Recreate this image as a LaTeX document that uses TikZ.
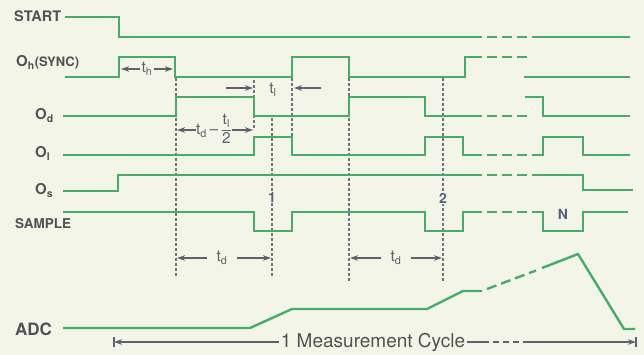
\documentclass[tikz,border=0pt]{standalone}
\usepackage{fontspec}
\setmainfont{TeX Gyre Heros}
\usetikzlibrary{arrows.meta}
\definecolor{bgcream}{RGB}{243,245,232}
\definecolor{wavegreen}{RGB}{74,170,106}
\definecolor{markgray}{RGB}{112,116,124}
\definecolor{labelgray}{RGB}{80,82,86}
\definecolor{dimgray}{RGB}{92,98,108}
\definecolor{countblue}{RGB}{84,98,124}

\begin{document}
\begin{tikzpicture}[
    x=1pt, y=-1pt,
    wave/.style={draw=wavegreen, line width=2.4pt},
    wavegap/.style={wave, dash pattern=on 10pt off 5pt},
    marker/.style={draw=markgray, line width=1.2pt, dash pattern=on 3pt off 2pt},
    dimarrow/.style={-{Stealth[length=8pt, width=5.5pt]}, line width=1.2pt, draw=dimgray},
    dimline/.style={line width=1.2pt, draw=dimgray},
    siglabel/.style={font=\fontsize{15}{15}\selectfont\bfseries, text=labelgray, anchor=base west, inner sep=0pt},
    caplabel/.style={font=\fontsize{13.5}{13.5}\selectfont\bfseries, text=labelgray, anchor=base west, inner sep=0pt},
    dimlabel/.style={font=\fontsize{15.5}{15.5}\selectfont, text=dimgray, inner sep=1pt},
    count/.style={font=\fontsize{14}{14}\selectfont\bfseries, text=countblue, fill=bgcream, inner sep=0.5pt}
]

% Background
\fill[bgcream] (0,0) rectangle (644,355);
\useasboundingbox (0,0) rectangle (644,355);

% Signal names
\node[caplabel, font=\fontsize{14.5}{14.5}\selectfont\bfseries] (start_lbl) at (14,22) {START};
\node[siglabel] (oh_lbl) at (16,67) {O\textsubscript{h}{\fontsize{13}{13}\selectfont(SYNC)}};
\node[siglabel] (od_lbl) at (35,120) {O\textsubscript{d}};
\node[siglabel] (ol_lbl) at (35,158) {O\textsubscript{l}};
\node[siglabel] (os_lbl) at (35,195) {O\textsubscript{s}};
\node[caplabel] (sample_lbl) at (15,228) {SAMPLE};
\node[caplabel, font=\fontsize{17}{17}\selectfont\bfseries] (adc_lbl) at (15,335) {ADC};

% Timing markers
\draw[marker] (176,78) -- (176,278);
\draw[marker] (254,80) -- (254,130);
\draw[marker] (272,118) -- (272,278);
\draw[marker] (292,78) -- (292,137);
\draw[marker] (349,78) -- (349,282);
\draw[marker] (443,78) -- (443,282);

% START
\draw[wave] (65,17) -| (119,37) -- (482,37);
\draw[wavegap] (487,37) -- (527,37);
\draw[wave] (532,37) -- (630,37);

% O_h (SYNC)
\draw[wave] (65,77) -| (119,57) -| (175,77) -| (292,57) -| (349,77) -| (465,57) -- (482,57);
\draw[wavegap] (487,57) -- (527,57);
\draw[wave] (524,77) -- (630,77);

% O_d
\draw[wave] (63,116) -| (176,97) -| (254,116) -| (349,97) -| (425,116) -- (482,116);
\draw[wavegap] (487,116) -- (527,116);
\draw[wave] (525,97) -| (543,116) -- (630,116);

% O_l
\draw[wave] (63,155) -| (254,137) -| (292,155) -| (425,137) -| (463,155) -- (482,155);
\draw[wavegap] (487,155) -- (527,155);
\draw[wave] (532,155) -| (543,137) -| (583,155) -- (630,155);

% O_s
\draw[wave] (63,191) -| (118,175) -- (482,175);
\draw[wavegap] (487,175) -- (527,175);
\draw[wave] (532,175) -| (583,190) -- (633,190);

% SAMPLE
\draw[wave] (63,212) -| (254,231) -| (292,212) -| (425,231) -| (463,212) -- (482,212);
\draw[wavegap] (487,212) -- (527,212);
\draw[wave] (532,212) -| (543,231) -| (583,212) -- (628,212);

% ADC
\draw[wave] (63,328) -- (250,328) -- (292,309) -- (427,309) -- (463,291) -- (482,291);
\draw[wavegap] (487,289) -- (536,270.5);
\draw[wave] (542,268) -- (578,254) -- (624,329) -- (635,329);

% Sample counts
\node[count] (n1) at (272,198) {1};
\node[count] (n2) at (443,198) {2};
\node[count, fill=none] (nN) at (563,214) {N};

% t_h
\node[dimlabel] (th) at (147,69) {t\textsubscript{h}};
\coordinate (thL) at (121,69);
\coordinate (thR) at (173,69);
\draw[dimarrow] (th) -- (thL);
\draw[dimarrow] (th) -- (thR);

% t_l
\node[dimlabel] (tl) at (273,90) {t\textsubscript{l}};
\coordinate (tlA) at (226,88);
\coordinate (tlB) at (253,88);
\coordinate (tlC) at (321,88);
\coordinate (tlD) at (294,88);
\draw[dimarrow] (tlA) -- (tlB);
\draw[dimarrow] (tlC) -- (tlD);

% t_d - t_l/2
\node[dimlabel, inner xsep=0pt] (tdl) at (214,129) {t\textsubscript{d}\,–\,$\displaystyle\frac{\mbox{t\textsubscript{l}}}{\mbox{2}}$};
\coordinate (tdlL) at (177,130);
\coordinate (tdlR) at (253,130);
\draw[dimarrow] (tdl.west |- tdlL) -- (tdlL);
\draw[dimarrow] (tdl.east |- tdlR) -- (tdlR);

% t_d intervals
\node[dimlabel, inner xsep=9pt] (td1) at (222,258) {t\textsubscript{d}};
\coordinate (td1L) at (177,258);
\coordinate (td1R) at (271,258);
\draw[dimarrow] (td1) -- (td1L);
\draw[dimarrow] (td1) -- (td1R);

\node[dimlabel, inner xsep=9pt] (td2) at (396,258) {t\textsubscript{d}};
\coordinate (td2L) at (350,258);
\coordinate (td2R) at (442,258);
\draw[dimarrow] (td2) -- (td2L);
\draw[dimarrow] (td2) -- (td2R);

% Measurement cycle
\node[dimlabel, font=\fontsize{19}{19}\selectfont, text=labelgray, inner xsep=2pt] (cycle) at (373,342) {1 Measurement Cycle};
\coordinate (cycL) at (114,342);
\coordinate (cycA) at (483,342);
\coordinate (cycB) at (526,342);
\coordinate (cycR) at (636,342);
\draw[dimarrow] (cycle) -- (cycL);
\draw[dimline] (cycle) -- (cycA);
\draw[dimline, dash pattern=on 6pt off 4pt] (cycA) -- (cycB);
\draw[dimarrow] (cycB) -- (cycR);
\draw[dimline] ([yshift=-5pt]cycL) -- ([yshift=5pt]cycL);
\draw[dimline] ([yshift=-5pt]cycR) -- ([yshift=5pt]cycR);

\end{tikzpicture}
\end{document}
